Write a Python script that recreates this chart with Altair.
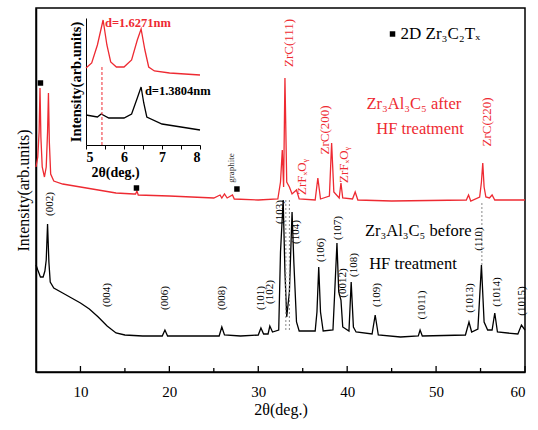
import altair as alt
import pandas as pd

FONT = "Liberation Serif"
RED = "#ee2a32"

# ---- main spectra (2theta deg, intensity arb.) ----
black_x = [5.0, 5.2, 5.5, 5.8, 6.0, 6.15, 6.3, 6.45, 6.6, 7.0, 8, 9, 10, 11, 12, 13, 14, 15, 17, 19.2, 19.5, 19.8, 22,
           25.6, 25.9, 26.2, 28, 30.0, 30.3, 30.6, 31.1, 31.3, 31.6, 32.3, 32.5, 32.8, 33.0, 33.2, 33.5, 33.8, 34.0,
           34.3, 34.6, 36.4, 36.6, 36.8, 37.0, 37.3, 38.4, 38.6, 38.85, 39.05, 39.3, 39.5, 40.2, 40.45, 40.7, 41.0,
           42.8, 43.15, 43.5, 46, 48.0, 48.2, 48.45, 53.3, 53.7, 54.0, 54.7, 55.1, 55.4, 55.8, 56.3, 56.6, 56.9,
           59.2, 59.6, 60]
black_y = [107, 102, 95, 95, 101, 112, 148, 110, 90, 84, 79, 74, 69, 63, 55, 46, 39, 37, 36, 36, 42, 36, 36,
           36, 45, 37, 36, 37, 44, 38, 38, 46, 40, 42, 120, 172, 100, 55, 80, 160, 110,
           50, 41, 41, 60, 105, 60, 41, 42, 80, 129, 80, 72, 45, 41, 90, 45, 40,
           38, 57, 37, 35, 36, 42, 36, 37, 50, 40, 43, 107, 50, 42, 42, 59, 40,
           38, 47, 42]

red_x = [5.0, 5.2, 5.35, 5.45, 5.55, 5.7, 5.95, 6.15, 6.3, 6.4, 6.5, 6.65, 7.0, 8, 10, 12, 14, 16, 16.2, 16.35,
         16.5, 20, 25, 25.7, 25.9, 26.2, 26.5, 27.1, 27.3, 30, 32.2, 32.5, 32.7, 32.85, 33.0, 33.2, 33.5, 33.8,
         34.3, 34.6, 36.4, 36.7, 37.0, 38.0, 38.25, 38.5, 39.1, 39.3, 39.5, 40.6, 40.9, 41.2, 45, 53.4, 53.65,
         53.9, 54.9, 55.1, 55.25, 55.4, 55.6, 56.0, 56.3, 56.6, 60]
red_y = [205, 215, 240, 284, 235, 205, 195, 205, 240, 279, 230, 198, 191, 188, 185, 182, 179, 178, 178, 181,
         177, 176, 174, 177, 174, 178, 174, 177, 173, 172, 173, 190, 222, 185, 294, 190, 185, 178,
         182, 173, 172, 194, 173, 176, 229, 180, 174, 189, 174, 173, 180, 172, 171, 172, 177,
         171, 175, 190, 209, 185, 175, 174, 177, 172, 172]

# ---- peak labels ----
blab_t = ["(002)", "(004)", "(006)", "(008)", "(101)", "(102)", "(103)", "(104)", "(106)", "(107)", "(0012)",
          "(108)", "(109)", "(1011)", "(1013)", "(110)", "(1014)", "(1015)"]
blab_x = [6.6, 13.0, 19.5, 25.9, 30.3, 31.3, 32.4, 34.2, 37.0, 39.0, 39.55, 40.75, 43.3, 48.4, 53.8, 54.8, 56.8, 59.7]
blab_y = [168, 77, 74, 74, 74, 80, 160, 140, 122, 144, 89, 107, 77, 67, 74, 133, 80, 71]

rlab_t = ["ZrC(111)", "ZrFₓOᵧ", "ZrC(200)", "ZrFₓOᵧ", "ZrC(220)"]
rlab_x = [33.5, 34.9, 37.5, 39.6, 55.7]
rlab_y = [329, 195, 242, 207, 250]

# dashed guide lines
dash_x = [33.1, 33.5, 55.15]
dash_y1 = [42, 42, 107]
dash_y2 = [172, 172, 171]

# 2D Zr3C2Tx markers
sq_x = [5.5, 16.3, 27.6, 45.1]
sq_y = [289, 184, 183, 338]

# big texts
txt_t = ["Zr₃Al₃C₅ after", "HF treatment", "Zr₃Al₃C₅ before", "HF treatment"]
txt_x = [47.5, 48.2, 48.0, 47.4]
txt_y = [268, 243, 141, 108]
txt_c = [RED, RED, "black", "black"]

major_ticks = [10, 20, 30, 40, 50, 60]
minor_ticks = [15, 25, 35, 45, 55]

# ---- inset spectra ----
ir_x = [5.0, 5.15, 5.3, 5.45, 5.55, 5.65, 5.8, 6.0, 6.2, 6.35, 6.45, 6.55, 6.65, 6.8, 7.2, 8.0]
ir_y = [77, 82, 100, 125, 100, 83, 78, 78, 85, 105, 116, 95, 78, 74, 72, 70]
ib_x = [5.0, 5.3, 5.4, 5.6, 6.0, 6.2, 6.35, 6.45, 6.52, 6.6, 7.0, 7.5, 8.0]
ib_y = [30, 28, 31, 27, 27, 31, 47, 58, 42, 28, 21, 18, 15]
inset_ticks = [5, 5.5, 6, 6.5, 7, 7.5, 8]


def sx():
    return alt.Scale(domain=[5, 60], nice=False, zero=False)


def sy():
    return alt.Scale(domain=[0, 364], nice=False, zero=False)


def ix():
    return alt.Scale(domain=[5, 8], range=[50, 164], nice=False, zero=False)


def iy():
    return alt.Scale(domain=[0, 127], range=[137, 10], nice=False, zero=False)


def mxy():
    return dict(x=alt.X("x:Q", scale=sx(), axis=None), y=alt.Y("y:Q", scale=sy(), axis=None))


def ixy():
    return dict(x=alt.X("x:Q", scale=ix(), axis=None), y=alt.Y("y:Q", scale=iy(), axis=None))


black_df = pd.DataFrame({"x": black_x, "y": black_y})
red_df = pd.DataFrame({"x": red_x, "y": red_y})

base_line = alt.Chart(black_df).mark_line(color="black", strokeWidth=1.3).encode(
    x=alt.X("x:Q", scale=sx(), axis=alt.Axis(
        orient="bottom", values=major_ticks, title="2θ(deg.)", labelFont=FONT, titleFont=FONT,
        labelFontSize=15, titleFontSize=16, titleFontWeight="normal", ticks=False, grid=False,
        labelPadding=12, titlePadding=2, labelColor="black", titleColor="black",
        domainColor="black", domainWidth=1.5)),
    y=alt.Y("y:Q", scale=sy(), axis=alt.Axis(
        orient="left", title="Intensity(arb.units)", labels=False, ticks=False, grid=False,
        titleFont=FONT, titleFontSize=16, titleFontWeight="normal", titlePadding=5,
        titleColor="black", domainColor="black", domainWidth=1.5)),
)
red_line = alt.Chart(red_df).mark_line(color=RED, strokeWidth=1.3).encode(**mxy())

dash = alt.Chart(pd.DataFrame({"x": dash_x, "y": dash_y1, "y2": dash_y2})).mark_rule(
    color="#888888", strokeDash=[2, 2], strokeWidth=1).encode(**mxy(), y2="y2:Q")

tick_df = pd.DataFrame({"x": major_ticks + minor_ticks,
                        "y": [0] * (len(major_ticks) + len(minor_ticks)),
                        "len": [6] * len(major_ticks) + [4] * len(minor_ticks)})
ticks = alt.Chart(tick_df).mark_rule(color="black", strokeWidth=1.3).encode(**mxy(), y2="len:Q")

blab = alt.Chart(pd.DataFrame({"x": blab_x, "y": blab_y, "t": blab_t})).mark_text(
    angle=270, font=FONT, fontSize=11, color="black", align="center", baseline="middle").encode(
    **mxy(), text="t:N")

rlab = alt.Chart(pd.DataFrame({"x": rlab_x, "y": rlab_y, "t": rlab_t})).mark_text(
    angle=270, font=FONT, fontSize=13, color=RED, align="center", baseline="middle").encode(
    **mxy(), text="t:N")

graph = alt.Chart(pd.DataFrame({"x": [26.9], "y": [204], "t": ["graphite"]})).mark_text(
    angle=270, font=FONT, fontSize=9, color="#333333", align="center", baseline="middle").encode(
    **mxy(), text="t:N")

squares = alt.Chart(pd.DataFrame({"x": sq_x, "y": sq_y})).mark_square(
    color="black", size=30, opacity=1).encode(**mxy())

legend_txt = alt.Chart(pd.DataFrame({"x": [46.0], "y": [338], "t": ["2D Zr₃C₂Tₓ"]})).mark_text(
    font=FONT, fontSize=17, color="black", align="left", baseline="middle").encode(**mxy(), text="t:N")

big = alt.Chart(pd.DataFrame({"x": txt_x, "y": txt_y, "t": txt_t, "c": txt_c})).mark_text(
    font=FONT, fontSize=16.5, align="center", baseline="middle").encode(
    **mxy(), text="t:N", color=alt.Color("c:N", scale=None))

# ---- inset ----
ir_line = alt.Chart(pd.DataFrame({"x": ir_x, "y": ir_y})).mark_line(color=RED, strokeWidth=1.3).encode(
    x=alt.X("x:Q", scale=ix(), axis=alt.Axis(
        orient="bottom", offset=-227, values=inset_ticks,
        labelExpr="datum.value % 1 == 0 ? format(datum.value, 'd') : ''", labelFont=FONT, labelFontSize=14,
        labelFontWeight="bold", title="2θ(deg.)", titleFont=FONT, titleFontSize=14, titleFontWeight="bold",
        titleX=79, titlePadding=1, tickSize=4, grid=False, labelPadding=1, domainColor="black",
        tickColor="black", labelColor="black", titleColor="black")),
    y=alt.Y("y:Q", scale=iy(), axis=alt.Axis(
        orient="left", offset=-50, labels=False, ticks=False, grid=False, title="Intensity(arb.units)",
        titleFont=FONT, titleFontSize=14.5, titleFontWeight="bold", titlePadding=3,
        domainColor="black", titleColor="black")),
)
ib_line = alt.Chart(pd.DataFrame({"x": ib_x, "y": ib_y})).mark_line(color="black", strokeWidth=1.3).encode(**ixy())
idash = alt.Chart(pd.DataFrame({"x": [5.42], "y": [0], "y2": [80]})).mark_rule(
    color=RED, strokeDash=[3, 2], strokeWidth=1).encode(**ixy(), y2="y2:Q")
itxt = alt.Chart(pd.DataFrame({"x": [5.5, 6.55], "y": [122, 54], "t": ["d=1.6271nm", "d=1.3804nm"],
                               "c": [RED, "black"]})).mark_text(
    font=FONT, fontSize=12.5, fontWeight="bold", align="left", baseline="middle").encode(
    **ixy(), text="t:N", color=alt.Color("c:N", scale=None))

chart = alt.layer(
    base_line, red_line, dash, ticks, blab, rlab, graph, squares, legend_txt, big,
    ir_line, ib_line, idash, itxt
).resolve_scale(x="independent", y="independent").resolve_axis(
    x="independent", y="independent"
).properties(
    width=489, height=364,
    autosize=alt.AutoSizeParams(type="none"),
    padding={"left": 36, "top": 8, "right": 13, "bottom": 58},
    background="white",
).configure_view(stroke="black", strokeWidth=1.5)

chart.save("out.html", embed_options={"renderer": "svg", "actions": False})
